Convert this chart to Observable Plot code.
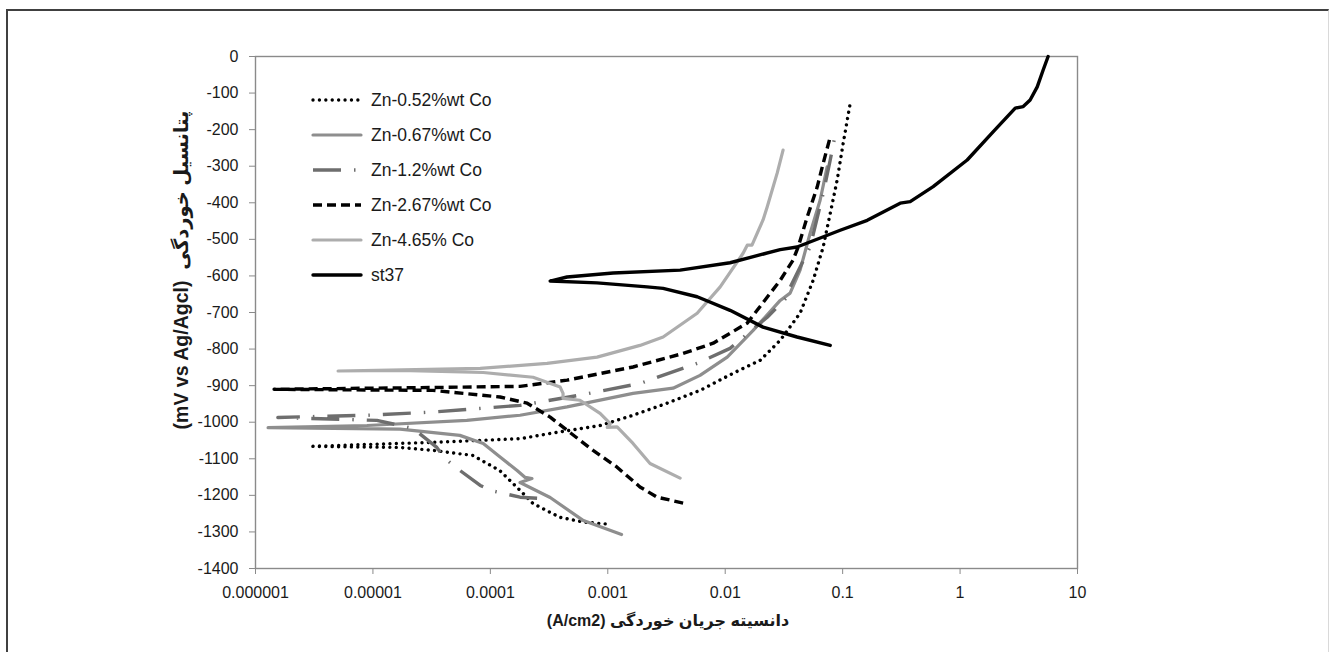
<!DOCTYPE html>
<html>
<head>
<meta charset="utf-8">
<script src="https://cdn.jsdelivr.net/npm/d3@7"></script>
<script src="https://cdn.jsdelivr.net/npm/@observablehq/plot@0.6"></script>
<style>
  body { margin: 0; background: #fff; }
  #wrap { position: relative; width: 1330px; height: 652px; overflow: hidden; }
  #border { position: absolute; left: 6px; top: 9px; width: 1320px; height: 700px;
            border-left: 2px solid #404040; border-top: 2px solid #404040; border-right: 1px solid #d9d9d9; }
  #wrap svg { position: absolute; left: 0; top: 0; }
</style>
</head>
<body>
<div id="wrap"><div id="border"></div></div>
<script>
// ---- tick values / labels ----
const xTickValues = [1e-6, 1e-5, 1e-4, 1e-3, 1e-2, 1e-1, 1, 10];
const xTickLabels = ["0.000001", "0.00001", "0.0001", "0.001", "0.01", "0.1", "1", "10"];
const yTickValues = [0, -100, -200, -300, -400, -500, -600, -700, -800, -900, -1000, -1100, -1200, -1300, -1400];
const yTickLabels = ["0", "-100", "-200", "-300", "-400", "-500", "-600", "-700", "-800", "-900", "-1000", "-1100", "-1200", "-1300", "-1400"];

// ---- series names ----
const seriesNames = ["Zn-0.52%wt Co", "Zn-0.67%wt Co", "Zn-1.2%wt Co", "Zn-2.67%wt Co", "Zn-4.65% Co", "st37"];

// ---- data: current density (A/cm2) and potential (mV) ----
const zn052_i = [9.5e-4, 6.2e-4, 3.9e-4, 2.3e-4, 1.8e-4, 1.2e-4, 7.1e-5, 3.25e-5, 1.7e-5, 2.9e-6, 3.25e-5, 1.8e-4, 3.2e-4, 8.6e-4, 1.64e-3, 3.2e-3, 6.1e-3, 0.0117, 0.0198, 0.0294, 0.0434, 0.0561, 0.0683, 0.0784, 0.0898, 0.101, 0.116];
const zn052_E = [-1278, -1273, -1260, -1222, -1187, -1132, -1091, -1077, -1069, -1066, -1055, -1045, -1031, -1009, -981, -948, -913, -866, -831, -776, -702, -612, -521, -429, -338, -238, -128];

const zn067_i = [1.31e-3, 6.2e-4, 3.23e-4, 1.79e-4, 2.26e-4, 1.98e-4, 1.69e-4, 1.21e-4, 8.7e-5, 5.5e-5, 1.7e-5, 1.28e-6, 8.9e-6, 6.3e-5, 1.79e-4, 4.5e-4, 1.64e-3, 3.6e-3, 6.1e-3, 0.0104, 0.0173, 0.0294, 0.0357, 0.0434, 0.0528, 0.0643, 0.0738];
const zn067_E = [-1307, -1269, -1206, -1165, -1154, -1151, -1132, -1095, -1058, -1036, -1019, -1015, -1009, -995, -981, -958, -921, -907, -872, -822, -749, -667, -647, -584, -484, -393, -302];

const zn12_i = [2.5e-4, 1.79e-4, 1.05e-4, 8.2e-5, 5.2e-5, 4.1e-5, 3.5e-5, 2.2e-5, 1.08e-5, 1.55e-6, 8.9e-6, 3.25e-5, 1.79e-4, 5.8e-4, 1.88e-3, 5.77e-3, 0.0110, 0.0228, 0.0337, 0.0357, 0.0528, 0.0683, 0.0784, 0.0863];
const zn12_E = [-1208, -1205, -1188, -1173, -1126, -1099, -1069, -1017, -995, -987, -981, -972, -954, -926, -894, -839, -798, -713, -658, -631, -521, -374, -283, -215];

const zn267_i = [4.38e-3, 2.63e-3, 1.88e-3, 1.20e-3, 7.5e-4, 4.5e-4, 3.23e-4, 2.06e-4, 1.21e-4, 3.25e-5, 1.44e-6, 3.25e-5, 1.79e-4, 4.5e-4, 1.64e-3, 4.38e-3, 7.9e-3, 0.0154, 0.0294, 0.0378, 0.0418, 0.0499, 0.0607, 0.0683, 0.0784];
const zn267_E = [-1221, -1205, -1177, -1123, -1077, -1022, -986, -948, -931, -913, -910, -905, -902, -885, -849, -812, -784, -729, -612, -557, -521, -439, -357, -292, -220];

const zn465_i = [4.13e-3, 2.29e-3, 1.64e-3, 1.20e-3, 9.9e-4, 1.05e-3, 8.6e-4, 5.8e-4, 4.16e-4, 4.16e-4, 3.93e-4, 2.31e-4, 8.7e-5, 1.7e-5, 5.05e-6, 8.2e-5, 3.04e-4, 8.1e-4, 1.88e-3, 2.96e-3, 5.77e-3, 9.06e-3, 0.0142, 0.0154, 0.0169, 0.0210, 0.0228, 0.0277, 0.0311];
const zn465_E = [-1153, -1113, -1058, -1013, -1014, -1004, -976, -940, -935, -921, -904, -877, -864, -858, -860, -853, -839, -822, -790, -767, -702, -630, -538, -516, -516, -447, -411, -319, -256];

const st37_i = [0.0784, 0.0409, 0.0210, 0.0110, 5.77e-3, 2.96e-3, 2.16e-3, 8.1e-4, 3.23e-4, 4.5e-4, 1.11e-3, 4.13e-3, 0.0110, 0.0294, 0.0409, 0.0953, 0.162, 0.309, 0.376, 0.590, 1.15, 1.91, 2.95, 3.45, 3.95, 4.54, 5.10, 5.62];
const st37_E = [-790, -767, -740, -694, -657, -634, -630, -619, -614, -603, -592, -584, -564, -528, -521, -475, -448, -401, -397, -356, -283, -206, -141, -137, -119, -83, -37, 0];

// ---- styles per series ----
const styles = [
  { stroke: "#000000", strokeWidth: 3.4, strokeDasharray: "0.01,6.4", strokeLinecap: "round" },
  { stroke: "#8e8e8e", strokeWidth: 3.2, strokeDasharray: null, strokeLinecap: "round" },
  { stroke: "#6e6e6e", strokeWidth: 3.4, strokeDasharray: "28,13,1.5,13", strokeLinecap: "butt" },
  { stroke: "#000000", strokeWidth: 3.4, strokeDasharray: "9,5", strokeLinecap: "butt" },
  { stroke: "#adadad", strokeWidth: 3.2, strokeDasharray: null, strokeLinecap: "round" },
  { stroke: "#000000", strokeWidth: 3.4, strokeDasharray: null, strokeLinecap: "round" }
];

const seriesData = [
  [zn052_i, zn052_E], [zn067_i, zn067_E], [zn12_i, zn12_E],
  [zn267_i, zn267_E], [zn465_i, zn465_E], [st37_i, st37_E]
];
const rows = seriesData.flatMap(([I, E], s) => I.map((v, k) => ({ series: seriesNames[s], i: v, E: E[k] })));

const FONT = "'Liberation Sans', Arial, 'DejaVu Sans', sans-serif";

const plot = Plot.plot({
  width: 1330,
  height: 652,
  marginLeft: 255,
  marginRight: 253,
  marginTop: 56,
  marginBottom: 84,
  style: { fontFamily: FONT, fontSize: "16px", color: "#1a1a1a", background: "transparent" },
  x: { type: "log", domain: [1e-6, 10] },
  y: { domain: [-1400, 0] },
  marks: [
    Plot.frame({ stroke: "#8a8a8a", strokeWidth: 1.4 }),
    Plot.axisX({ ticks: xTickValues, tickFormat: (d) => xTickLabels[xTickValues.indexOf(d)], tickSize: 6, tickPadding: 12, stroke: "#8a8a8a", label: null }),
    Plot.axisY({ ticks: yTickValues, tickFormat: (d) => yTickLabels[yTickValues.indexOf(d)], tickSize: 6, tickPadding: 11, stroke: "#8a8a8a", label: null }),
    ...seriesNames.map((name, s) => Plot.line(rows.filter(r => r.series === name), {
      x: "i", y: "E",
      stroke: styles[s].stroke,
      strokeWidth: styles[s].strokeWidth,
      strokeDasharray: styles[s].strokeDasharray,
      strokeLinecap: styles[s].strokeLinecap,
      strokeLinejoin: "round"
    }))
  ]
});

document.getElementById("wrap").appendChild(plot);

const svg = d3.select(plot);

// axis titles
svg.append("text")
  .attr("transform", "translate(188,270) rotate(-90)")
  .attr("text-anchor", "middle")
  .attr("direction", "rtl")
  .attr("font-family", FONT)
  .attr("font-weight", "bold")
  .attr("font-size", 19.5)
  .attr("fill", "#1a1a1a")
  .text("پتانسیل خوردگی  (mV vs Ag/Agcl)");

svg.append("text")
  .attr("x", 668)
  .attr("y", 626)
  .attr("text-anchor", "middle")
  .attr("direction", "rtl")
  .attr("font-family", FONT)
  .attr("font-weight", "bold")
  .attr("font-size", 16)
  .attr("fill", "#1a1a1a")
  .text("دانسیته جریان خوردگی (A/cm2)");

// legend
const legend = svg.append("g");
seriesNames.forEach((name, s) => {
  const y = 100 + s * 35;
  legend.append("line")
    .attr("x1", 313).attr("x2", 361).attr("y1", y).attr("y2", y)
    .attr("stroke", styles[s].stroke)
    .attr("stroke-width", styles[s].strokeWidth)
    .attr("stroke-dasharray", styles[s].strokeDasharray)
    .attr("stroke-linecap", styles[s].strokeLinecap);
  legend.append("text")
    .attr("x", 371).attr("y", y).attr("dy", "0.35em")
    .attr("text-anchor", "start")
    .attr("font-family", FONT)
    .attr("font-size", 17.5)
    .attr("fill", "#1a1a1a")
    .text(name);
});
</script>
</body>
</html>
